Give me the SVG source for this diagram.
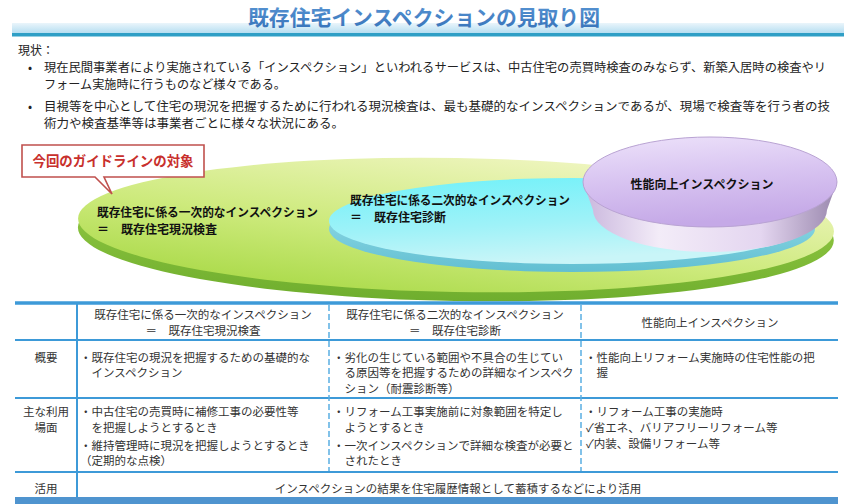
<svg xmlns="http://www.w3.org/2000/svg" width="844" height="504" viewBox="0 0 844 504">
<defs>
<linearGradient id="band" x1="0" y1="0" x2="0" y2="1"><stop offset="0" stop-color="#eaf5fb"/><stop offset="1" stop-color="#b6def1"/></linearGradient>
<linearGradient id="titleG" x1="0" y1="0" x2="0" y2="1"><stop offset="0" stop-color="#5b98d6"/><stop offset="1" stop-color="#3571b8"/></linearGradient>
<linearGradient id="greenTop" x1="0.15" y1="1" x2="0.75" y2="0"><stop offset="0" stop-color="#a6d843"/><stop offset="0.45" stop-color="#cdea7c"/><stop offset="1" stop-color="#f1f6c4"/></linearGradient>
<linearGradient id="greenSide" x1="0" y1="0" x2="0" y2="1"><stop offset="0" stop-color="#9fd24a"/><stop offset="1" stop-color="#6fae2e"/></linearGradient>
<linearGradient id="cyanTop" x1="0" y1="0" x2="0.3" y2="1"><stop offset="0" stop-color="#6ff1f9"/><stop offset="0.6" stop-color="#9ff2f8"/><stop offset="1" stop-color="#c9f5f8"/></linearGradient>
<linearGradient id="cyanSide" x1="0" y1="0" x2="0" y2="1"><stop offset="0" stop-color="#9fe3ec"/><stop offset="1" stop-color="#62bfd2"/></linearGradient>
<linearGradient id="purTop" x1="0" y1="0" x2="0.2" y2="1"><stop offset="0" stop-color="#ede2fa"/><stop offset="0.5" stop-color="#d8c4f1"/><stop offset="1" stop-color="#c5a9e7"/></linearGradient>
<linearGradient id="purSide" x1="0" y1="0" x2="1" y2="0"><stop offset="0" stop-color="#c9b6dd"/><stop offset="0.3" stop-color="#f3ecf8"/><stop offset="0.7" stop-color="#e4d6f0"/><stop offset="1" stop-color="#9a88ae"/></linearGradient>
<style>
text{font-family:"Noto Sans CJK JP","Noto Sans",sans-serif;}
.intro{font-size:12px;fill:#222;}
.lbl{font-size:12px;font-weight:bold;fill:#111;}
.tb{font-size:11.5px;fill:#333;}
.mid{text-anchor:middle;}
.hl{stroke:#3d9ad8;stroke-width:2;fill:none;}
.dl{stroke:#5aaee2;stroke-width:1.5;stroke-dasharray:6 3;fill:none;}
</style>
</defs>
<rect width="844" height="504" fill="#ffffff"/>

<g id="title">
<rect x="12" y="23" width="832" height="10" fill="url(#band)"/>
<rect x="12" y="33" width="832" height="3.5" fill="#2f9fc6"/>
<text x="424" y="25" text-anchor="middle" font-size="21" font-weight="bold" fill="url(#titleG)" textLength="352" lengthAdjust="spacingAndGlyphs">既存住宅インスペクションの見取り図</text>
</g>

<g id="intro">
<text class="intro" x="18" y="55" font-size="13">現状：</text>
<text class="intro" x="28" y="72">•</text>
<text class="intro" x="44" y="72" textLength="782" lengthAdjust="spacingAndGlyphs">現在民間事業者により実施されている「インスペクション」といわれるサービスは、中古住宅の売買時検査のみならず、新築入居時の検査やリ</text>
<text class="intro" x="44" y="89" textLength="242" lengthAdjust="spacingAndGlyphs">フォーム実施時に行うものなど様々である。</text>
<text class="intro" x="28" y="111">•</text>
<text class="intro" x="44" y="111" textLength="786" lengthAdjust="spacingAndGlyphs">目視等を中心として住宅の現況を把握するために行われる現況検査は、最も基礎的なインスペクションであるが、現場で検査等を行う者の技</text>
<text class="intro" x="44" y="128" textLength="300" lengthAdjust="spacingAndGlyphs">術力や検査基準等は事業者ごとに様々な状況にある。</text>
</g>

<g id="ellipse-primary" transform="rotate(1 456 226)">
<ellipse cx="456" cy="234" rx="378" ry="67" fill="url(#greenSide)"/>
<ellipse cx="456" cy="225" rx="378" ry="67" fill="url(#greenTop)"/>
</g>

<g id="ellipse-secondary">
<ellipse cx="572" cy="229" rx="243" ry="43" fill="url(#cyanSide)"/>
<ellipse cx="572" cy="221" rx="243" ry="43" fill="url(#cyanTop)"/>
</g>

<g id="ellipse-performance">
<path d="M583,182 L593,210 A117,42 0 0 0 827,210 L837,182 Z" fill="url(#purSide)"/>
<ellipse cx="710" cy="182" rx="127" ry="45" fill="url(#purTop)" stroke="#b9a3d3" stroke-width="1"/>
<text class="lbl mid" x="702" y="189">性能向上インスペクション</text>
</g>

<g id="label-primary">
<text class="lbl" x="97" y="217" textLength="221" lengthAdjust="spacingAndGlyphs">既存住宅に係る一次的なインスペクション</text>
<text class="lbl" x="97" y="234">＝　既存住宅現況検査</text>
</g>

<g id="label-secondary">
<text class="lbl" x="350" y="205" textLength="220" lengthAdjust="spacingAndGlyphs">既存住宅に係る二次的なインスペクション</text>
<text class="lbl" x="350" y="222">＝　既存住宅診断</text>
</g>

<g id="callout">
<path d="M22,145 H204 V177 H104 L112,194 L95,177 H22 Z" fill="#ffffff" stroke="#c0504d" stroke-width="1.6"/>
<text x="113" y="166" text-anchor="middle" font-size="14" font-weight="bold" fill="#c8302c" textLength="161" lengthAdjust="spacingAndGlyphs">今回のガイドラインの対象</text>
</g>

<g id="table">
<line x1="15" y1="303" x2="838" y2="303" stroke="#3d9ad8" stroke-width="3.5"/>
<line class="hl" x1="15" y1="340" x2="838" y2="340"/>
<line class="hl" x1="15" y1="398" x2="838" y2="398"/>
<line class="hl" x1="15" y1="472" x2="838" y2="472"/>
<line class="hl" x1="77" y1="303" x2="77" y2="497"/>
<line class="dl" x1="329" y1="305" x2="329" y2="471"/>
<line class="dl" x1="581" y1="305" x2="581" y2="471"/>
<rect x="15" y="497" width="823" height="7" fill="#4f94cf"/>

<text class="tb mid" x="203" y="319">既存住宅に係る一次的なインスペクション</text>
<text class="tb mid" x="203" y="335">＝　既存住宅現況検査</text>
<text class="tb mid" x="455" y="319">既存住宅に係る二次的なインスペクション</text>
<text class="tb mid" x="455" y="335">＝　既存住宅診断</text>
<text class="tb mid" x="710" y="327">性能向上インスペクション</text>

<text class="tb mid" x="46" y="361.5">概要</text>
<text class="tb" x="80" y="361.5">・既存住宅の現況を把握するための基礎的な</text>
<text class="tb" x="91.5" y="377">インスペクション</text>
<text class="tb" x="333" y="361.5">・劣化の生じている範囲や不具合の生じてい</text>
<text class="tb" x="344.5" y="377">る原因等を把握するための詳細なインスペク</text>
<text class="tb" x="344.5" y="392.5">ション（耐震診断等）</text>
<text class="tb" x="585" y="361.5">・性能向上リフォーム実施時の住宅性能の把</text>
<text class="tb" x="596.5" y="377">握</text>

<text class="tb mid" x="46" y="415.5">主な利用</text>
<text class="tb mid" x="46" y="431.5">場面</text>
<text class="tb" x="80" y="415.5">・中古住宅の売買時に補修工事の必要性等</text>
<text class="tb" x="91.5" y="431.5">を把握しようとするとき</text>
<text class="tb" x="80" y="449.5">・維持管理時に現況を把握しようとするとき</text>
<text class="tb" x="80" y="465">（定期的な点検）</text>
<text class="tb" x="333" y="415.5">・リフォーム工事実施前に対象範囲を特定し</text>
<text class="tb" x="344.5" y="431.5">ようとするとき</text>
<text class="tb" x="333" y="449.5">・一次インスペクションで詳細な検査が必要と</text>
<text class="tb" x="344.5" y="465">されたとき</text>
<text class="tb" x="585" y="415.5">・リフォーム工事の実施時</text>
<text class="tb" x="586" y="431.5">✓省エネ、バリアフリーリフォーム等</text>
<text class="tb" x="586" y="447.5">✓内装、設備リフォーム等</text>

<text class="tb mid" x="46" y="492.5">活用</text>
<text class="tb mid" x="458" y="492.5">インスペクションの結果を住宅履歴情報として蓄積するなどにより活用</text>
</g>

<g id="connectors"></g>
</svg>
